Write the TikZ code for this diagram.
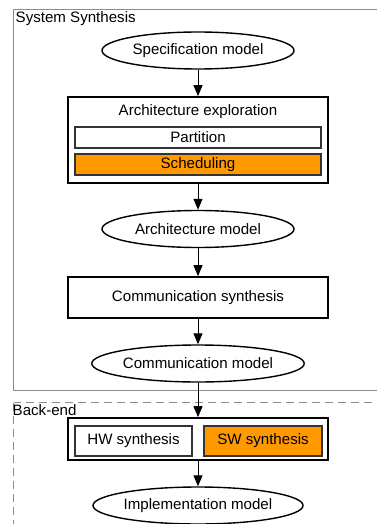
\documentclass[tikz,border=0pt]{standalone}
\usepackage{fontspec}
\setmainfont{Liberation Sans}
\usetikzlibrary{shapes.geometric,arrows.meta}
\definecolor{framegray}{HTML}{8C8C8C}
\definecolor{swfill}{HTML}{FF9900}
\definecolor{subline}{HTML}{333333}
\tikzset{
  every node/.style={font=\fontsize{15.1}{18}\selectfont, inner sep=0pt},
  model/.style={ellipse, draw=black, line width=1.4pt, minimum width=192pt, minimum height=37pt},
  stage/.style={rectangle, draw=black, line width=1.7pt, minimum width=260pt},
  sub/.style={rectangle, draw=subline, line width=1.1pt, fill=white},
  hot/.style={sub, fill=swfill},
  flow/.style={line width=1pt, -{Triangle[length=11pt,width=9pt]}},
  region/.style={draw=framegray, line width=1pt},
}
\begin{document}
\begin{tikzpicture}[x=1pt,y=-1pt]
\useasboundingbox (0,0) rectangle (377,524);
\clip (0,0) rectangle (377,524);
% region frames
\draw[region] (13.5,10) rectangle (380,390.5);
\draw[region, dash pattern=on 8pt off 5pt] (13.5,402.5) rectangle (380,540);
\node[anchor=west] (lblsys) at (15.5,19) {System Synthesis};
\node[anchor=west] (lblback) at (12.5,410.5) {Back-end};
% system synthesis flow
\node[model] (spec) at (198,50.5) {Specification model};
\node[stage, minimum height=86pt] (arch) at (198,140) {};
\node (archtitle) at (198,112) {Architecture exploration};
\node[sub, minimum width=246pt, minimum height=21pt] (part) at (198,137.5) {Partition};
\node[hot, minimum width=246pt, minimum height=21pt] (sched) at (198,164.5) {Scheduling};
\node[model] (archm) at (198,229) {Architecture model};
\node[stage, minimum height=41pt] (comm) at (198,297.5) {Communication synthesis};
\node[model] (commm) at (198,363.5) {Communication model};
% back-end flow
\node[stage, minimum height=42pt] (back) at (198,439) {};
\node[sub, minimum width=117pt, minimum height=30pt] (hw) at (133.5,441) {HW synthesis};
\node[hot, minimum width=118pt, minimum height=30pt] (sw) at (263,441) {SW synthesis};
\node[model] (impl) at (198,505.5) {Implementation model};
% connectors
\draw[flow] (spec) -- (arch);
\draw[flow] (arch) -- (archm);
\draw[flow] (archm) -- (comm);
\draw[flow] (comm) -- (commm);
\draw[flow] (commm) -- (back);
\draw[flow] (back) -- (impl);
\end{tikzpicture}
\end{document}
